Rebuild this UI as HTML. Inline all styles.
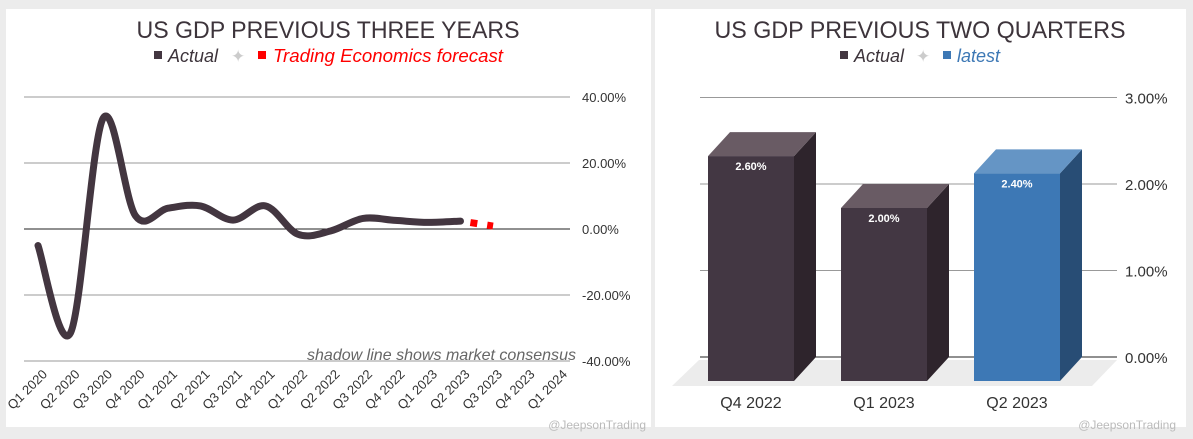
<!DOCTYPE html>
<html><head><meta charset="utf-8"><style>
body{margin:0;background:#ececec;font-family:"Liberation Sans",sans-serif;}
svg{display:block}
</style></head><body>
<svg width="1193" height="439" viewBox="0 0 1193 439">
<rect x="0" y="0" width="1193" height="439" fill="#ececec"/>
<rect x="6" y="9" width="645" height="418" fill="#fff"/>
<rect x="655" y="9" width="531" height="418" fill="#fff"/>
<g id="left"></g>
<g id="right"></g>
</svg>
<script>
const lineCats=["Q1 2020","Q2 2020","Q3 2020","Q4 2020","Q1 2021","Q2 2021","Q3 2021","Q4 2021","Q1 2022","Q2 2022","Q3 2022","Q4 2022","Q1 2023","Q2 2023","Q3 2023","Q4 2023","Q1 2024"];
const actualVals=[-5,-31.5,33.5,4,6.3,7,2.7,7,-1.6,-0.6,3.2,2.6,2.0,2.4];
const forecastVals=[2.4,0.9];
const lineTicks=[40,20,0,-20,-40];
const barCats=["Q4 2022","Q1 2023","Q2 2023"];
const barVals=[2.6,2.0,2.4];
const barTicks=[3,2,1,0];

const NS="http://www.w3.org/2000/svg";
function mk(parent,tag,attrs,text){const e=document.createElementNS(NS,tag);for(const k in attrs)e.setAttribute(k,attrs[k]);if(text!==undefined)e.textContent=text;parent.appendChild(e);return e;}

// LEFT chart
const L=document.getElementById('left');
const lx=i=>38+i*32.5;
const ly=v=>229-v*3.3;
let t=mk(L,'text',{x:328,y:38,'text-anchor':'middle','font-size':24,fill:'#3d343b',textLength:383,lengthAdjust:'spacingAndGlyphs'},"US GDP PREVIOUS THREE YEARS");


let lg=mk(L,'g',{});


mk(lg,'rect',{x:154,y:51,width:8,height:8,fill:'#433640'});
mk(lg,'text',{x:168,y:62,'font-size':18,'font-style':'italic',fill:'#3d343b'},"Actual");
mk(lg,'text',{x:231,y:62,'font-size':17,fill:'#ccc'},"✦");
mk(lg,'rect',{x:258,y:51,width:8,height:8,fill:'#f00'});
mk(lg,'text',{x:273,y:62,'font-size':18,'font-style':'italic',fill:'#f00',textLength:230,lengthAdjust:'spacingAndGlyphs'},"Trading Economics forecast");
lineTicks.forEach(v=>{
  let g=mk(L,'line',{x1:24,x2:570,y1:ly(v),y2:ly(v),stroke:v===0?'#222':'#999','stroke-width':1});
  
  
  let tx=mk(L,'text',{x:582,y:ly(v)+5,'font-size':13,fill:'#333'},v.toFixed(2)+"%");
  
  
});
lineCats.forEach((c,i)=>{
  let tx=mk(L,'text',{x:0,y:0,'font-size':13,fill:'#333','text-anchor':'end',transform:`translate(${lx(i)+10},${ly(-40)+14}) rotate(-45)`},c);
  
  
});
const pts=actualVals.map((v,i)=>[lx(i),ly(v)]);
let d=`M${pts[0][0]},${pts[0][1]}`;
for(let i=0;i<pts.length-1;i++){
  const p0=pts[i-1]||pts[i],p1=pts[i],p2=pts[i+1],p3=pts[i+2]||p2;
  const c1=[p1[0]+(p2[0]-p0[0])/6,p1[1]+(p2[1]-p0[1])/6];
  const c2=[p2[0]-(p3[0]-p1[0])/6,p2[1]-(p3[1]-p1[1])/6];
  d+=` C${c1[0]},${c1[1]} ${c2[0]},${c2[1]} ${p2[0]},${p2[1]}`;
}
let al=mk(L,'path',{d:d,fill:'none',stroke:'#433640','stroke-width':7,'stroke-linecap':'round'});


const fi=actualVals.length-1;
let fl=mk(L,'line',{x1:lx(fi),y1:ly(forecastVals[0]),x2:lx(fi+1),y2:ly(forecastVals[1]),stroke:'#f00','stroke-width':7,'stroke-dasharray':'7 10','stroke-dashoffset':'-10'});


let nt=mk(L,'text',{x:576,y:360,'text-anchor':'end','font-size':16,'font-style':'italic',fill:'#666',textLength:269,lengthAdjust:'spacingAndGlyphs'},"shadow line shows market consensus");


let w1=mk(L,'text',{x:646,y:429,'text-anchor':'end','font-size':12,fill:'#bbb'},"@JeepsonTrading");



// RIGHT chart
const R=document.getElementById('right');
const by=v=>357-v*86.5;
t=mk(R,'text',{x:920,y:38,'text-anchor':'middle','font-size':24,fill:'#3d343b',textLength:411,lengthAdjust:'spacingAndGlyphs'},"US GDP PREVIOUS TWO QUARTERS");


lg=mk(R,'g',{});


mk(lg,'rect',{x:840,y:51,width:8,height:8,fill:'#433640'});
mk(lg,'text',{x:854,y:62,'font-size':18,'font-style':'italic',fill:'#3d343b'},"Actual");
mk(lg,'text',{x:916,y:62,'font-size':17,fill:'#ccc'},"✦");
mk(lg,'rect',{x:943,y:51,width:8,height:8,fill:'#3d78b5'});
mk(lg,'text',{x:957,y:62,'font-size':18,'font-style':'italic',fill:'#3d78b5'},"latest");
let fl2=mk(R,'polygon',{points:'699,360 1117,360 1092,386 672,386',fill:'#ececec'});


barTicks.forEach(v=>{
  let g=mk(R,'line',{x1:700,x2:1117,y1:by(v),y2:by(v),stroke:v===0?'#222':'#999','stroke-width':1});
  
  
  let tx=mk(R,'text',{x:1125,y:by(v)+6,'font-size':15,fill:'#333'},v.toFixed(2)+"%");
  
  
});
const DX=22,DY=24,BW=86;
barCats.forEach((c,i)=>{
  const x=708+i*133, last=i===barCats.length-1;
  const front=last?'#3d78b5':'#433743', side=last?'#284d75':'#2e242c', top=last?'#6595c5':'#695b64';
  const yT=by(barVals[i])+DY, yB=357+DY;
  const g=mk(R,'g',{});
  
  
  mk(g,'polygon',{points:`${x+BW},${yT} ${x+BW+DX},${yT-DY} ${x+BW+DX},${yB-DY} ${x+BW},${yB}`,fill:side});
  mk(g,'polygon',{points:`${x},${yT} ${x+DX},${yT-DY} ${x+BW+DX},${yT-DY} ${x+BW},${yT}`,fill:top});
  mk(g,'rect',{x:x,y:yT,width:BW,height:yB-yT,fill:front});
  mk(g,'text',{x:x+BW/2,y:yT+14,'text-anchor':'middle','font-size':11,'font-weight':'bold',fill:'#fff'},barVals[i].toFixed(2)+"%");
  let tx=mk(R,'text',{x:x+BW/2,y:408,'text-anchor':'middle','font-size':16,fill:'#333'},c);
  
  
});
let w2=mk(R,'text',{x:1176,y:429,'text-anchor':'end','font-size':12,fill:'#bbb'},"@JeepsonTrading");


</script>
</body></html>
